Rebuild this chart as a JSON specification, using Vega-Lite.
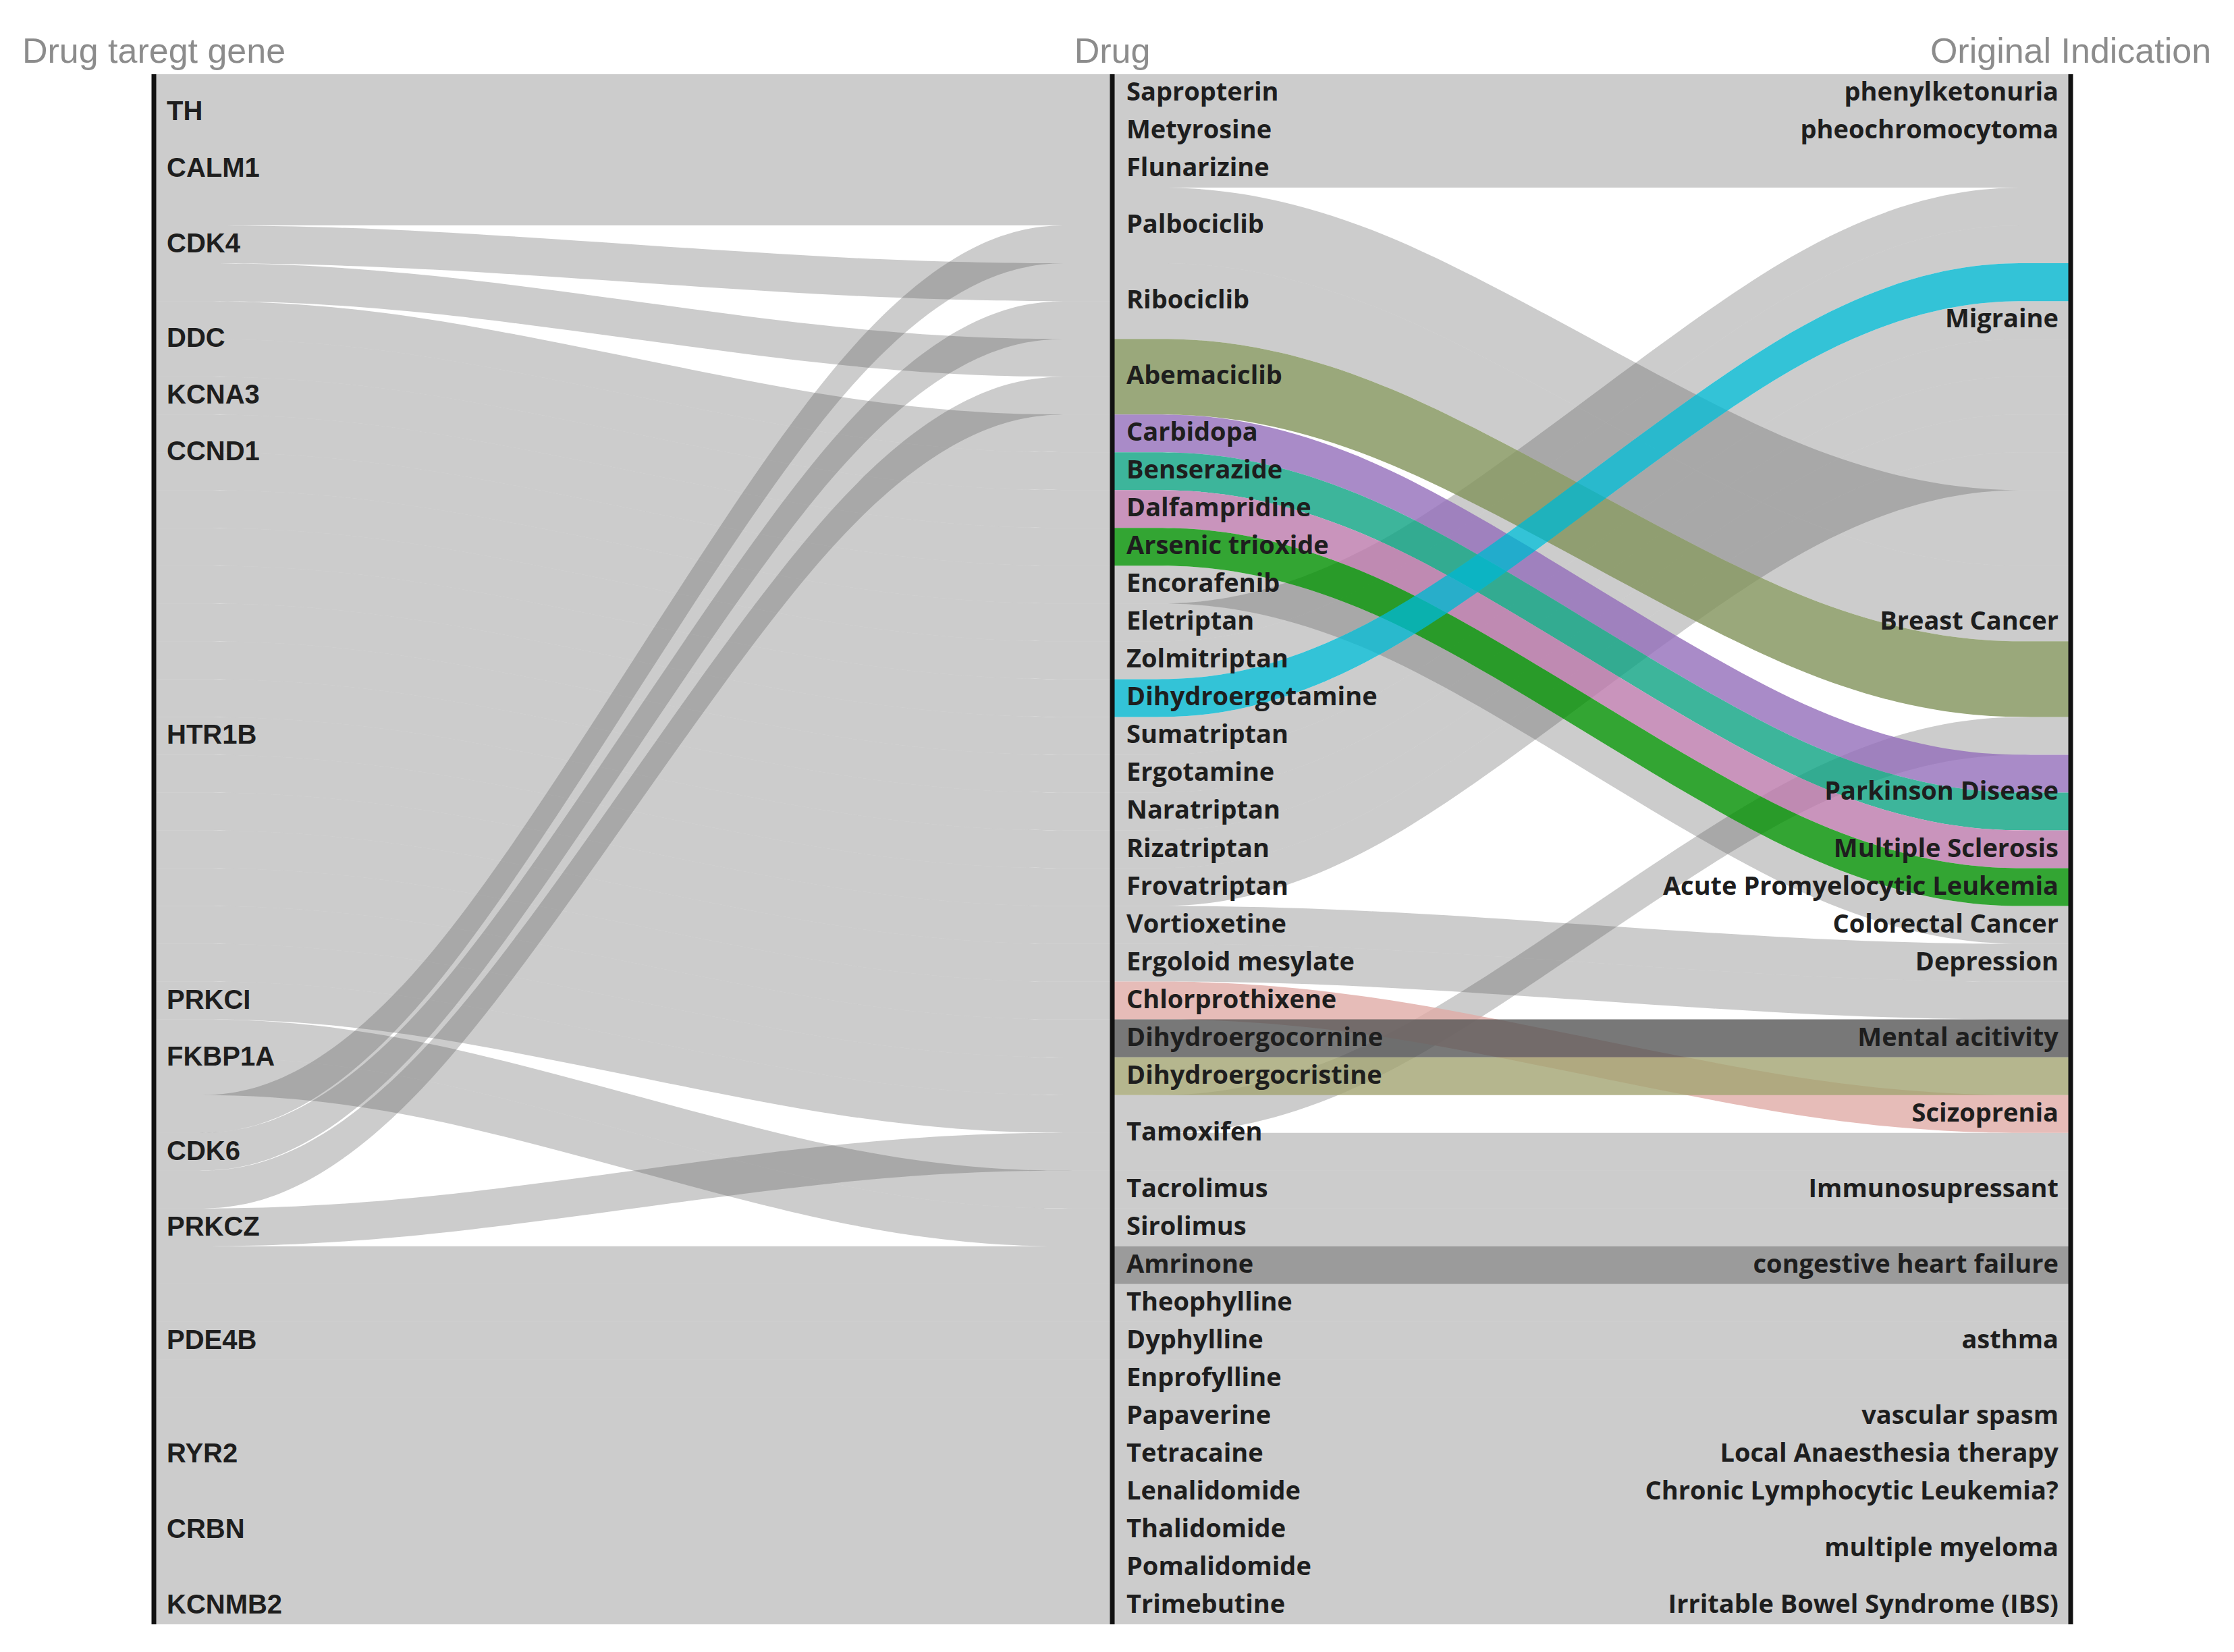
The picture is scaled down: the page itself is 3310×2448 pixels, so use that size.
{
"$schema": "https://vega.github.io/schema/vega-lite/v6.json",
"width": 2840, "height": 2297,
"autosize": {"type": "none"},
"padding": {"left": 228, "top": 110, "right": 242, "bottom": 41},
"background": "white",
"config": {"view": {"stroke": null}},
"datasets": {
"links": [
{"k":"a1","c":"g","x":0,"t":0,"b":1},{"k":"a1","c":"g","x":1,"t":0,"b":1},
{"k":"a2","c":"g","x":0,"t":1,"b":2},{"k":"a2","c":"g","x":1,"t":1,"b":2},
{"k":"a3","c":"g","x":0,"t":2,"b":3},{"k":"a3","c":"g","x":1,"t":2,"b":3},
{"k":"a4","c":"g","x":0,"t":3,"b":4},{"k":"a4","c":"g","x":1,"t":3,"b":4},
{"k":"a5","c":"g","x":0,"t":4,"b":5},{"k":"a5","c":"g","x":0.25,"t":4,"b":5},{"k":"a5","c":"g","x":0.75,"t":5,"b":6},{"k":"a5","c":"g","x":1,"t":5,"b":6},
{"k":"a6","c":"g","x":0,"t":5,"b":6},{"k":"a6","c":"g","x":0.25,"t":5,"b":6},{"k":"a6","c":"g","x":0.75,"t":7,"b":8},{"k":"a6","c":"g","x":1,"t":7,"b":8},
{"k":"a7","c":"g","x":0,"t":6,"b":7},{"k":"a7","c":"g","x":0.25,"t":6,"b":7},{"k":"a7","c":"g","x":0.75,"t":9,"b":10},{"k":"a7","c":"g","x":1,"t":9,"b":10},
{"k":"a8","c":"g","x":0,"t":7,"b":8},{"k":"a8","c":"g","x":0.25,"t":7,"b":8},{"k":"a8","c":"g","x":0.75,"t":10,"b":11},{"k":"a8","c":"g","x":1,"t":10,"b":11},
{"k":"a9","c":"g","x":0,"t":8,"b":9},{"k":"a9","c":"g","x":0.25,"t":8,"b":9},{"k":"a9","c":"g","x":0.75,"t":11,"b":12},{"k":"a9","c":"g","x":1,"t":11,"b":12},
{"k":"a10","c":"g","x":0,"t":9,"b":10},{"k":"a10","c":"g","x":0.25,"t":9,"b":10},{"k":"a10","c":"g","x":0.75,"t":12,"b":13},{"k":"a10","c":"g","x":1,"t":12,"b":13},
{"k":"a11","c":"g","x":0,"t":10,"b":11},{"k":"a11","c":"g","x":0.25,"t":10,"b":11},{"k":"a11","c":"g","x":0.75,"t":13,"b":14},{"k":"a11","c":"g","x":1,"t":13,"b":14},
{"k":"a12","c":"g","x":0,"t":11,"b":12},{"k":"a12","c":"g","x":0.25,"t":11,"b":12},{"k":"a12","c":"g","x":0.75,"t":14,"b":15},{"k":"a12","c":"g","x":1,"t":14,"b":15},
{"k":"a13","c":"g","x":0,"t":12,"b":13},{"k":"a13","c":"g","x":0.25,"t":12,"b":13},{"k":"a13","c":"g","x":0.75,"t":15,"b":16},{"k":"a13","c":"g","x":1,"t":15,"b":16},
{"k":"a14","c":"g","x":0,"t":13,"b":14},{"k":"a14","c":"g","x":0.25,"t":13,"b":14},{"k":"a14","c":"g","x":0.75,"t":16,"b":17},{"k":"a14","c":"g","x":1,"t":16,"b":17},
{"k":"a15","c":"g","x":0,"t":14,"b":15},{"k":"a15","c":"g","x":0.25,"t":14,"b":15},{"k":"a15","c":"g","x":0.75,"t":17,"b":18},{"k":"a15","c":"g","x":1,"t":17,"b":18},
{"k":"a16","c":"g","x":0,"t":15,"b":16},{"k":"a16","c":"g","x":0.25,"t":15,"b":16},{"k":"a16","c":"g","x":0.75,"t":18,"b":19},{"k":"a16","c":"g","x":1,"t":18,"b":19},
{"k":"a17","c":"g","x":0,"t":16,"b":17},{"k":"a17","c":"g","x":0.25,"t":16,"b":17},{"k":"a17","c":"g","x":0.75,"t":19,"b":20},{"k":"a17","c":"g","x":1,"t":19,"b":20},
{"k":"a18","c":"g","x":0,"t":17,"b":18},{"k":"a18","c":"g","x":0.25,"t":17,"b":18},{"k":"a18","c":"g","x":0.75,"t":20,"b":21},{"k":"a18","c":"g","x":1,"t":20,"b":21},
{"k":"a19","c":"g","x":0,"t":18,"b":19},{"k":"a19","c":"g","x":0.25,"t":18,"b":19},{"k":"a19","c":"g","x":0.75,"t":21,"b":22},{"k":"a19","c":"g","x":1,"t":21,"b":22},
{"k":"a20","c":"g","x":0,"t":19,"b":20},{"k":"a20","c":"g","x":0.25,"t":19,"b":20},{"k":"a20","c":"g","x":0.75,"t":22,"b":23},{"k":"a20","c":"g","x":1,"t":22,"b":23},
{"k":"a21","c":"g","x":0,"t":20,"b":21},{"k":"a21","c":"g","x":0.25,"t":20,"b":21},{"k":"a21","c":"g","x":0.75,"t":23,"b":24},{"k":"a21","c":"g","x":1,"t":23,"b":24},
{"k":"a22","c":"g","x":0,"t":21,"b":22},{"k":"a22","c":"g","x":0.25,"t":21,"b":22},{"k":"a22","c":"g","x":0.75,"t":24,"b":25},{"k":"a22","c":"g","x":1,"t":24,"b":25},
{"k":"a23","c":"g","x":0,"t":22,"b":23},{"k":"a23","c":"g","x":0.25,"t":22,"b":23},{"k":"a23","c":"g","x":0.75,"t":25,"b":26},{"k":"a23","c":"g","x":1,"t":25,"b":26},
{"k":"a24","c":"g","x":0,"t":23,"b":24},{"k":"a24","c":"g","x":0.25,"t":23,"b":24},{"k":"a24","c":"g","x":0.75,"t":26,"b":27},{"k":"a24","c":"g","x":1,"t":26,"b":27},
{"k":"a25","c":"g","x":0,"t":24,"b":25},{"k":"a25","c":"g","x":0.25,"t":24,"b":25},{"k":"a25","c":"g","x":0.75,"t":27,"b":28},{"k":"a25","c":"g","x":1,"t":27,"b":28},
{"k":"a26","c":"g","x":0,"t":25,"b":26},{"k":"a26","c":"g","x":0.25,"t":25,"b":26},{"k":"a26","c":"g","x":0.75,"t":29,"b":30},{"k":"a26","c":"g","x":1,"t":29,"b":30},
{"k":"a27","c":"g","x":0,"t":26,"b":27},{"k":"a27","c":"g","x":0.25,"t":26,"b":27},{"k":"a27","c":"g","x":0.75,"t":30,"b":31},{"k":"a27","c":"g","x":1,"t":30,"b":31},
{"k":"a28","c":"g","x":0,"t":27,"b":28},{"k":"a28","c":"g","x":0.25,"t":27,"b":28},{"k":"a28","c":"g","x":0.75,"t":4,"b":5},{"k":"a28","c":"g","x":1,"t":4,"b":5},
{"k":"a29","c":"g","x":0,"t":28,"b":29},{"k":"a29","c":"g","x":0.25,"t":28,"b":29},{"k":"a29","c":"g","x":0.75,"t":6,"b":7},{"k":"a29","c":"g","x":1,"t":6,"b":7},
{"k":"a30","c":"g","x":0,"t":29,"b":30},{"k":"a30","c":"g","x":0.25,"t":29,"b":30},{"k":"a30","c":"g","x":0.75,"t":8,"b":9},{"k":"a30","c":"g","x":1,"t":8,"b":9},
{"k":"a31","c":"g","x":0,"t":30,"b":31},{"k":"a31","c":"g","x":0.25,"t":30,"b":31},{"k":"a31","c":"g","x":0.75,"t":28,"b":29},{"k":"a31","c":"g","x":1,"t":28,"b":29},
{"k":"a32","c":"g","x":0,"t":31,"b":32},{"k":"a32","c":"g","x":1,"t":31,"b":32},
{"k":"a33","c":"g","x":0,"t":32,"b":33},{"k":"a33","c":"g","x":1,"t":32,"b":33},
{"k":"a34","c":"g","x":0,"t":33,"b":34},{"k":"a34","c":"g","x":1,"t":33,"b":34},
{"k":"a35","c":"g","x":0,"t":34,"b":35},{"k":"a35","c":"g","x":1,"t":34,"b":35},
{"k":"a36","c":"g","x":0,"t":35,"b":36},{"k":"a36","c":"g","x":1,"t":35,"b":36},
{"k":"a37","c":"g","x":0,"t":36,"b":37},{"k":"a37","c":"g","x":1,"t":36,"b":37},
{"k":"a38","c":"g","x":0,"t":37,"b":38},{"k":"a38","c":"g","x":1,"t":37,"b":38},
{"k":"a39","c":"g","x":0,"t":38,"b":39},{"k":"a39","c":"g","x":1,"t":38,"b":39},
{"k":"a40","c":"g","x":0,"t":39,"b":40},{"k":"a40","c":"g","x":1,"t":39,"b":40},
{"k":"a41","c":"g","x":0,"t":40,"b":41},{"k":"a41","c":"g","x":1,"t":40,"b":41},
{"k":"b1","c":"g","x":1,"t":0,"b":1},{"k":"b1","c":"g","x":2,"t":0,"b":1},
{"k":"b2","c":"g","x":1,"t":1,"b":2},{"k":"b2","c":"g","x":2,"t":1,"b":2},
{"k":"b3","c":"g","x":1,"t":2,"b":3},{"k":"b3","c":"g","x":2,"t":2,"b":3},
{"k":"b4","c":"g","x":1,"t":3,"b":5},{"k":"b4","c":"g","x":1.25,"t":3,"b":5},{"k":"b4","c":"g","x":1.75,"t":11,"b":13},{"k":"b4","c":"g","x":2,"t":11,"b":13},
{"k":"b5","c":"g","x":1,"t":5,"b":7},{"k":"b5","c":"g","x":1.25,"t":5,"b":7},{"k":"b5","c":"g","x":1.75,"t":13,"b":15},{"k":"b5","c":"g","x":2,"t":13,"b":15},
{"k":"b6","c":"olive","x":1,"t":7,"b":9},{"k":"b6","c":"olive","x":1.25,"t":7,"b":9},{"k":"b6","c":"olive","x":1.75,"t":15,"b":17},{"k":"b6","c":"olive","x":2,"t":15,"b":17},
{"k":"b7","c":"purple","x":1,"t":9,"b":10},{"k":"b7","c":"purple","x":1.25,"t":9,"b":10},{"k":"b7","c":"purple","x":1.75,"t":18,"b":19},{"k":"b7","c":"purple","x":2,"t":18,"b":19},
{"k":"b8","c":"teal","x":1,"t":10,"b":11},{"k":"b8","c":"teal","x":1.25,"t":10,"b":11},{"k":"b8","c":"teal","x":1.75,"t":19,"b":20},{"k":"b8","c":"teal","x":2,"t":19,"b":20},
{"k":"b9","c":"pink","x":1,"t":11,"b":12},{"k":"b9","c":"pink","x":1.25,"t":11,"b":12},{"k":"b9","c":"pink","x":1.75,"t":20,"b":21},{"k":"b9","c":"pink","x":2,"t":20,"b":21},
{"k":"b10","c":"green","x":1,"t":12,"b":13},{"k":"b10","c":"green","x":1.25,"t":12,"b":13},{"k":"b10","c":"green","x":1.75,"t":21,"b":22},{"k":"b10","c":"green","x":2,"t":21,"b":22},
{"k":"b11","c":"g","x":1,"t":13,"b":14},{"k":"b11","c":"g","x":1.25,"t":13,"b":14},{"k":"b11","c":"g","x":1.75,"t":22,"b":23},{"k":"b11","c":"g","x":2,"t":22,"b":23},
{"k":"b12","c":"g","x":1,"t":14,"b":15},{"k":"b12","c":"g","x":1.25,"t":14,"b":15},{"k":"b12","c":"g","x":1.75,"t":3,"b":4},{"k":"b12","c":"g","x":2,"t":3,"b":4},
{"k":"b13","c":"g","x":1,"t":15,"b":16},{"k":"b13","c":"g","x":1.25,"t":15,"b":16},{"k":"b13","c":"g","x":1.75,"t":4,"b":5},{"k":"b13","c":"g","x":2,"t":4,"b":5},
{"k":"b14","c":"cyan","x":1,"t":16,"b":17},{"k":"b14","c":"cyan","x":1.25,"t":16,"b":17},{"k":"b14","c":"cyan","x":1.75,"t":5,"b":6},{"k":"b14","c":"cyan","x":2,"t":5,"b":6},
{"k":"b15","c":"g","x":1,"t":17,"b":18},{"k":"b15","c":"g","x":1.25,"t":17,"b":18},{"k":"b15","c":"g","x":1.75,"t":6,"b":7},{"k":"b15","c":"g","x":2,"t":6,"b":7},
{"k":"b16","c":"g","x":1,"t":18,"b":19},{"k":"b16","c":"g","x":1.25,"t":18,"b":19},{"k":"b16","c":"g","x":1.75,"t":7,"b":8},{"k":"b16","c":"g","x":2,"t":7,"b":8},
{"k":"b17","c":"g","x":1,"t":19,"b":20},{"k":"b17","c":"g","x":1.25,"t":19,"b":20},{"k":"b17","c":"g","x":1.75,"t":8,"b":9},{"k":"b17","c":"g","x":2,"t":8,"b":9},
{"k":"b18","c":"g","x":1,"t":20,"b":21},{"k":"b18","c":"g","x":1.25,"t":20,"b":21},{"k":"b18","c":"g","x":1.75,"t":9,"b":10},{"k":"b18","c":"g","x":2,"t":9,"b":10},
{"k":"b19","c":"g","x":1,"t":21,"b":22},{"k":"b19","c":"g","x":1.25,"t":21,"b":22},{"k":"b19","c":"g","x":1.75,"t":10,"b":11},{"k":"b19","c":"g","x":2,"t":10,"b":11},
{"k":"b20","c":"g","x":1,"t":22,"b":23},{"k":"b20","c":"g","x":1.25,"t":22,"b":23},{"k":"b20","c":"g","x":1.75,"t":23,"b":24},{"k":"b20","c":"g","x":2,"t":23,"b":24},
{"k":"b21","c":"g","x":1,"t":23,"b":24},{"k":"b21","c":"g","x":1.25,"t":23,"b":24},{"k":"b21","c":"g","x":1.75,"t":24,"b":25},{"k":"b21","c":"g","x":2,"t":24,"b":25},
{"k":"b22","c":"rose","x":1,"t":24,"b":25},{"k":"b22","c":"rose","x":1.25,"t":24,"b":25},{"k":"b22","c":"rose","x":1.75,"t":27,"b":28},{"k":"b22","c":"rose","x":2,"t":27,"b":28},
{"k":"b23","c":"dgray","x":1,"t":25,"b":26},{"k":"b23","c":"dgray","x":2,"t":25,"b":26},
{"k":"b24","c":"khaki","x":1,"t":26,"b":27},{"k":"b24","c":"khaki","x":2,"t":26,"b":27},
{"k":"b25","c":"g","x":1,"t":27,"b":28},{"k":"b25","c":"g","x":1.25,"t":27,"b":28},{"k":"b25","c":"g","x":1.75,"t":17,"b":18},{"k":"b25","c":"g","x":2,"t":17,"b":18},
{"k":"b26","c":"g","x":1,"t":28,"b":29},{"k":"b26","c":"g","x":2,"t":28,"b":29},
{"k":"b27","c":"g","x":1,"t":29,"b":30},{"k":"b27","c":"g","x":2,"t":29,"b":30},
{"k":"b28","c":"g","x":1,"t":30,"b":31},{"k":"b28","c":"g","x":2,"t":30,"b":31},
{"k":"b29","c":"mgray","x":1,"t":31,"b":32},{"k":"b29","c":"mgray","x":2,"t":31,"b":32},
{"k":"b30","c":"g","x":1,"t":32,"b":33},{"k":"b30","c":"g","x":2,"t":32,"b":33},
{"k":"b31","c":"g","x":1,"t":33,"b":34},{"k":"b31","c":"g","x":2,"t":33,"b":34},
{"k":"b32","c":"g","x":1,"t":34,"b":35},{"k":"b32","c":"g","x":2,"t":34,"b":35},
{"k":"b33","c":"g","x":1,"t":35,"b":36},{"k":"b33","c":"g","x":2,"t":35,"b":36},
{"k":"b34","c":"g","x":1,"t":36,"b":37},{"k":"b34","c":"g","x":2,"t":36,"b":37},
{"k":"b35","c":"g","x":1,"t":37,"b":38},{"k":"b35","c":"g","x":2,"t":37,"b":38},
{"k":"b36","c":"g","x":1,"t":38,"b":39},{"k":"b36","c":"g","x":2,"t":38,"b":39},
{"k":"b37","c":"g","x":1,"t":39,"b":40},{"k":"b37","c":"g","x":2,"t":39,"b":40},
{"k":"b38","c":"g","x":1,"t":40,"b":41},{"k":"b38","c":"g","x":2,"t":40,"b":41}
],
"nodes": [
{"n":"TH","col":0,"m":1},{"n":"CALM1","col":0,"m":2.5},{"n":"CDK4","col":0,"m":4.5},{"n":"DDC","col":0,"m":7},{"n":"KCNA3","col":0,"m":8.5},{"n":"CCND1","col":0,"m":10},{"n":"HTR1B","col":0,"m":17.5},{"n":"PRKCI","col":0,"m":24.5},{"n":"FKBP1A","col":0,"m":26},{"n":"CDK6","col":0,"m":28.5},{"n":"PRKCZ","col":0,"m":30.5},{"n":"PDE4B","col":0,"m":33.5},{"n":"RYR2","col":0,"m":36.5},{"n":"CRBN","col":0,"m":38.5},{"n":"KCNMB2","col":0,"m":40.5},
{"n":"Sapropterin","col":1,"m":0.5},{"n":"Metyrosine","col":1,"m":1.5},{"n":"Flunarizine","col":1,"m":2.5},{"n":"Palbociclib","col":1,"m":4},{"n":"Ribociclib","col":1,"m":6},{"n":"Abemaciclib","col":1,"m":8},{"n":"Carbidopa","col":1,"m":9.5},{"n":"Benserazide","col":1,"m":10.5},{"n":"Dalfampridine","col":1,"m":11.5},{"n":"Arsenic trioxide","col":1,"m":12.5},{"n":"Encorafenib","col":1,"m":13.5},{"n":"Eletriptan","col":1,"m":14.5},{"n":"Zolmitriptan","col":1,"m":15.5},{"n":"Dihydroergotamine","col":1,"m":16.5},{"n":"Sumatriptan","col":1,"m":17.5},{"n":"Ergotamine","col":1,"m":18.5},{"n":"Naratriptan","col":1,"m":19.5},{"n":"Rizatriptan","col":1,"m":20.5},{"n":"Frovatriptan","col":1,"m":21.5},{"n":"Vortioxetine","col":1,"m":22.5},{"n":"Ergoloid mesylate","col":1,"m":23.5},{"n":"Chlorprothixene","col":1,"m":24.5},{"n":"Dihydroergocornine","col":1,"m":25.5},{"n":"Dihydroergocristine","col":1,"m":26.5},{"n":"Tamoxifen","col":1,"m":28},{"n":"Tacrolimus","col":1,"m":29.5},{"n":"Sirolimus","col":1,"m":30.5},{"n":"Amrinone","col":1,"m":31.5},{"n":"Theophylline","col":1,"m":32.5},{"n":"Dyphylline","col":1,"m":33.5},{"n":"Enprofylline","col":1,"m":34.5},{"n":"Papaverine","col":1,"m":35.5},{"n":"Tetracaine","col":1,"m":36.5},{"n":"Lenalidomide","col":1,"m":37.5},{"n":"Thalidomide","col":1,"m":38.5},{"n":"Pomalidomide","col":1,"m":39.5},{"n":"Trimebutine","col":1,"m":40.5},
{"n":"phenylketonuria","col":2,"m":0.5},{"n":"pheochromocytoma","col":2,"m":1.5},{"n":"Migraine","col":2,"m":6.5},{"n":"Breast Cancer","col":2,"m":14.5},{"n":"Parkinson Disease","col":2,"m":19},{"n":"Multiple Sclerosis","col":2,"m":20.5},{"n":"Acute Promyelocytic Leukemia","col":2,"m":21.5},{"n":"Colorectal Cancer","col":2,"m":22.5},{"n":"Depression","col":2,"m":23.5},{"n":"Mental acitivity","col":2,"m":25.5},{"n":"Scizoprenia","col":2,"m":27.5},{"n":"Immunosupressant","col":2,"m":29.5},{"n":"congestive heart failure","col":2,"m":31.5},{"n":"asthma","col":2,"m":33.5},{"n":"vascular spasm","col":2,"m":35.5},{"n":"Local Anaesthesia therapy","col":2,"m":36.5},{"n":"Chronic Lymphocytic Leukemia?","col":2,"m":37.5},{"n":"multiple myeloma","col":2,"m":39},{"n":"Irritable Bowel Syndrome (IBS)","col":2,"m":40.5}
],
"heads": [{"h":"Drug taregt gene","col":0},{"h":"Drug","col":1},{"h":"Original Indication","col":2}]
},
"layer": [
{"data": {"name": "links"}, "transform": [{"filter": "datum.c == 'g'"}],
 "mark": {"type": "area", "interpolate": "basis", "opacity": 1},
 "encoding": {
  "x": {"field": "x", "type": "quantitative", "scale": {"domain": [0, 2], "nice": false, "zero": false}, "axis": null},
  "y": {"field": "t", "type": "quantitative", "stack": null, "scale": {"domain": [0, 41], "reverse": true, "nice": false, "zero": false}, "axis": null},
  "y2": {"field": "b"},
  "detail": {"field": "k"},
  "color": {"field": "c", "type": "nominal", "legend": null, "scale": {"domain": ["g","olive","purple","teal","pink","green","cyan","rose","dgray","khaki","mgray"], "range": ["rgba(85,85,85,0.3)","rgba(129,146,90,0.8)","rgba(147,110,186,0.8)","rgba(12,162,130,0.8)","rgba(187,121,171,0.8)","rgba(0,142,0,0.8)","rgba(0,180,205,0.8)","rgba(224,171,166,0.8)","rgba(86,86,86,0.8)","rgba(162,164,114,0.8)","rgba(130,130,130,0.8)"]}}
 }},
{"data": {"name": "links"}, "transform": [{"filter": "datum.c != 'g'"}],
 "mark": {"type": "area", "interpolate": "basis", "opacity": 1},
 "encoding": {
  "x": {"field": "x", "type": "quantitative"},
  "y": {"field": "t", "type": "quantitative", "stack": null},
  "y2": {"field": "b"},
  "detail": {"field": "k"},
  "color": {"field": "c", "type": "nominal", "legend": null}
 }},
{"data": {"values": [{"col": 0}, {"col": 1}, {"col": 2}]},
 "mark": {"type": "rule", "strokeWidth": 7, "color": "#111111"},
 "encoding": {
  "x": {"field": "col", "type": "quantitative"},
  "y": {"datum": 0, "type": "quantitative"},
  "y2": {"datum": 41}
 }},
{"data": {"name": "nodes"}, "transform": [{"filter": "datum.col == 0"}],
 "mark": {"type": "text", "align": "left", "baseline": "middle", "dx": 19, "font": "Liberation Sans", "fontWeight": "bold", "fontSize": 40, "fill": "#1e1e1e"},
 "encoding": {
  "x": {"field": "col", "type": "quantitative"},
  "y": {"field": "m", "type": "quantitative"},
  "text": {"field": "n"}
 }},
{"data": {"name": "nodes"}, "transform": [{"filter": "datum.col == 1"}],
 "mark": {"type": "text", "align": "left", "baseline": "middle", "dx": 21, "font": "Open Sans", "fontWeight": "bold", "fontSize": 38, "fill": "#1e1e1e"},
 "encoding": {
  "x": {"field": "col", "type": "quantitative"},
  "y": {"field": "m", "type": "quantitative"},
  "text": {"field": "n"}
 }},
{"data": {"name": "nodes"}, "transform": [{"filter": "datum.col == 2"}],
 "mark": {"type": "text", "align": "right", "baseline": "middle", "dx": -18, "font": "Open Sans", "fontWeight": "bold", "fontSize": 38, "fill": "#1e1e1e"},
 "encoding": {
  "x": {"field": "col", "type": "quantitative"},
  "y": {"field": "m", "type": "quantitative"},
  "text": {"field": "n"}
 }},
{"data": {"name": "heads"},
 "mark": {"type": "text", "align": "center", "baseline": "alphabetic", "dy": -17, "font": "Liberation Sans", "fontSize": 52, "fill": "#8c8c8c"},
 "encoding": {
  "x": {"field": "col", "type": "quantitative"},
  "y": {"datum": 0, "type": "quantitative"},
  "text": {"field": "h"}
 }}
]
}
